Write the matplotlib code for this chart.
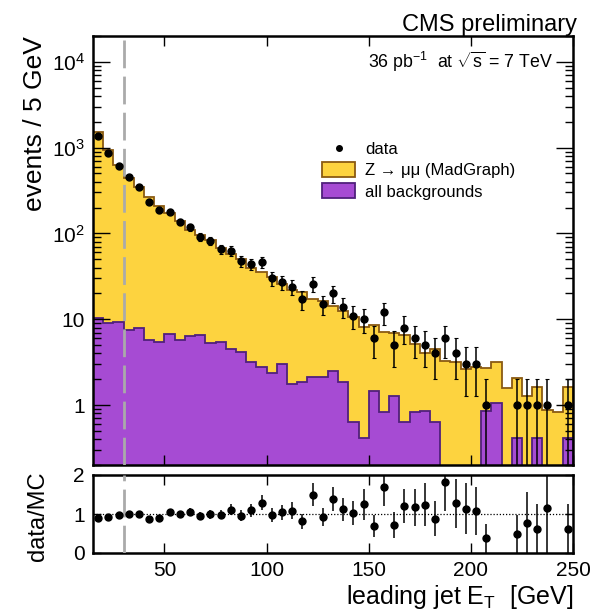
import numpy as np
import matplotlib
matplotlib.use('Agg')
from matplotlib import pyplot as plt
from matplotlib.lines import Line2D
from matplotlib.ticker import LogLocator, FixedLocator, FuncFormatter, NullFormatter

plt.rcParams['font.family'] = ['Liberation Sans', 'DejaVu Sans']
plt.rcParams['mathtext.fontset'] = 'custom'
plt.rcParams['mathtext.rm'] = 'Liberation Sans'
plt.rcParams['mathtext.it'] = 'Liberation Sans:italic'

# leading jet ET, 5 GeV bins from 15 to 250
edges = np.arange(15, 251, 5)

data = [1370, 869, 618, 452, 349, 235, 188, 180, 137, 118, 92, 82, 66, 63, 48, 44,
        46, 30, 27, 24, 17, 26, 15, 20, 14, 11, 10, 6, 12, 5, 8, 6, 5, 4, 6, 4,
        3, 3, 1, 0, 0, 1, 1, 1, 1, 0, 1]

# Z -> mumu (MadGraph), stacked on top of the backgrounds
zmumu = [1520, 941, 625, 439, 337, 261, 202.5, 165.2, 132.3, 104.6, 89.5, 77.8, 61.5,
         52.5, 45.8, 36.8, 33.0, 28.7, 23.0, 20.3, 19.1, 15.3, 14.1, 11.9, 10.6, 10.1,
         7.6, 7.1, 6.2, 5.7, 6.0, 4.3, 3.2, 3.9, 3.3, 3.15, 2.63, 2.8, 1.82, 2.15,
         1.57, 1.63, 1.28, 1.19, 0.87, 0.84, 1.19]

backgrounds = [10.3, 9.0, 9.2, 7.55, 7.98, 5.78, 5.47, 6.79, 5.68, 6.43, 6.55, 5.24,
               5.47, 4.5, 4.19, 3.2, 2.75, 2.34, 2.98, 1.74, 1.87, 2.1, 2.1, 2.51, 1.87,
               0.64, 0.416, 1.47, 0.84, 1.26, 0.63, 0.82, 0.86, 0.63, 0, 0, 0, 0, 0.86,
               1.05, 0, 0.416, 0, 0.416, 0, 0, 0.416]

jet_cut = 30  # GeV

yellow = '#fdd33f'
yellow_edge = '#8a5a12'
purple = '#a64bd3'
purple_edge = '#50207c'

data = np.array(data, dtype=float)
bkg = np.array(backgrounds)
mc = bkg + np.array(zmumu)
centers = 0.5 * (edges[:-1] + edges[1:])
floor = 1e-3

fig = plt.figure(figsize=(5.94, 6.12), dpi=100)
ax1 = fig.add_axes([93/594, 1 - 465/612, 480/594, 429/612])
ax2 = fig.add_axes([93/594, 1 - 553/612, 480/594, 78/612])

# ---- top panel ----
h_z = ax1.stairs(mc, edges, fill=True, facecolor=yellow, edgecolor=yellow_edge,
                 linewidth=1.3, baseline=floor)
h_b = ax1.stairs(np.where(bkg > 0, bkg, floor), edges, fill=True, facecolor=purple,
                 edgecolor=purple_edge, linewidth=1.3, baseline=floor)
ax1.axvline(jet_cut, color='#aaaaaa', lw=2, ls=(0, (10, 3)), zorder=3)

sel = data > 0
err = np.sqrt(data)
err_lo = np.minimum(err, data - floor)
ax1.errorbar(centers[sel], data[sel], yerr=[err_lo[sel], err[sel]], fmt='o', color='black',
             ms=5, elinewidth=1.1, capsize=1.5, capthick=0.8, zorder=5)

ax1.set_yscale('log')
ax1.set_xlim(15, 250)
ax1.set_ylim(0.2, 2e4)
ax1.xaxis.set_major_locator(FixedLocator([50, 100, 150, 200, 250]))
ax1.set_xticklabels([])
ax1.yaxis.set_major_locator(LogLocator(base=10, numticks=10))
ax1.yaxis.set_minor_locator(LogLocator(base=10, subs=np.arange(2, 10), numticks=20))
ax1.yaxis.set_minor_formatter(NullFormatter())

def logfmt(v, pos):
    if v == 1:
        return '1'
    if v == 10:
        return '10'
    return r'$10^{%d}$' % int(round(np.log10(v)))

ax1.yaxis.set_major_formatter(FuncFormatter(logfmt))
ax1.tick_params(axis='x', which='major', direction='in', top=True, bottom=True, length=7, width=1)
ax1.tick_params(axis='y', which='major', direction='in', left=True, right=True, length=12,
                width=1, labelsize=15, pad=6)
ax1.tick_params(axis='y', which='minor', direction='in', left=True, right=True, length=6, width=1)

h_d = Line2D([], [], marker='o', color='black', ls='none', ms=4)
ax1.legend([h_d, h_z, h_b], ['data', 'Z → μμ (MadGraph)', 'all backgrounds'],
           loc='upper left', bbox_to_anchor=((322 - 93) / 480, (465 - 141) / 429),
           frameon=False, fontsize=12, borderpad=0, borderaxespad=0, handlelength=2.0,
           handleheight=1.0, labelspacing=0.3, handletextpad=0.6)

ax1.text(0.957, 0.925, r'36 pb$^{-1}$  at $\sqrt{\mathrm{s}}$ = 7 TeV', transform=ax1.transAxes,
         ha='right', va='baseline', fontsize=12.8)

# ---- ratio panel ----
ratio = data[sel] / mc[sel]
ratio_err = err[sel] / mc[sel]
ax2.axhline(1, color='black', lw=0.9, ls=(0, (1, 1.5)))
ax2.axvline(jet_cut, color='#aaaaaa', lw=2, ls=(0, (10, 3)), zorder=3)
ax2.errorbar(centers[sel], ratio, yerr=ratio_err, fmt='o', color='black', ms=5,
             elinewidth=1.1, capsize=0, zorder=5)
ax2.set_xlim(15, 250)
ax2.set_ylim(0, 2)
ax2.xaxis.set_major_locator(FixedLocator([50, 100, 150, 200, 250]))
ax2.yaxis.set_major_locator(FixedLocator([0, 1, 2]))
ax2.tick_params(axis='x', direction='in', top=True, bottom=True, length=7, width=1,
                labelsize=15, pad=6)
ax2.tick_params(axis='y', direction='in', left=True, right=True, length=6, width=1,
                labelsize=15, pad=6)

for ax in (ax1, ax2):
    for s in ax.spines.values():
        s.set_linewidth(1.8)

fig.text(35/594, 1 - 36/612, 'events / 5 GeV', rotation=90, ha='center', va='top', fontsize=19)
fig.text(38/594, 1 - 516/612, 'data/MC', rotation=90, ha='center', va='center', fontsize=17)
fig.text(573/594, 1 - 604/612, r'leading jet E$_\mathrm{T}$  [GeV]', ha='right',
         va='baseline', fontsize=18)
fig.text(577/594, 1 - 31/612, 'CMS preliminary', ha='right', va='baseline', fontsize=17)

plt.savefig('out.png', dpi=100)
